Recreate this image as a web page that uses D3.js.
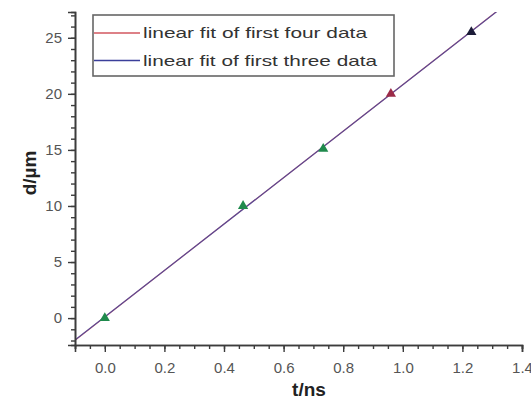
<!DOCTYPE html>
<html>
<head>
<meta charset="utf-8">
<script src="https://cdn.jsdelivr.net/npm/d3@7"></script>
<style>
  body { margin: 0; background: #fff; }
  svg { display: block; font-family: "Liberation Sans", Arial, sans-serif; }
</style>
</head>
<body>
<svg></svg>
<script>
var width = 531;
var height = 401;

// measured points (t in ns, d in um)
var times = [0, 0.464, 0.733, 0.96, 1.23];
var dists = [0, 10.0, 15.1, 20.0, 25.5];
var pointColors = ["#1f8a4c", "#1f8a4c", "#1f8a4c", "#9c2a48", "#1c1c38"];

var xTicks = [0, 0.2, 0.4, 0.6, 0.8, 1.0, 1.2, 1.4];
var yTicks = [0, 5, 10, 15, 20, 25];
var legendLabels = ["linear fit of first four data", "linear fit of first three data"];
var legendWidths = [224, 234];
var fitCounts = [4, 3];
var fitColors = ["#d2575f", "#3b3f9a"];

var margin = {left: 75, right: 9, top: 12, bottom: 56};

var x = d3.scaleLinear().domain([-0.1, 1.4]).range([margin.left, width - margin.right]);
var y = d3.scaleLinear().domain([-2.4, 27.3]).range([height - margin.bottom, margin.top]);

var svg = d3.select('svg')
    .attr('width', width)
    .attr('height', height);

svg.append('defs').append('clipPath')
    .attr('id', 'plot')
  .append('rect')
    .attr('x', x.range()[0])
    .attr('y', y.range()[1])
    .attr('width', x.range()[1] - x.range()[0])
    .attr('height', y.range()[0] - y.range()[1]);

//least squares fit over the first n points
function fit(n) {
  var ts = times.slice(0, n), ds = dists.slice(0, n);
  var mt = d3.mean(ts), md = d3.mean(ds);
  var sxy = d3.sum(ts, (t, i) => (t - mt) * (ds[i] - md));
  var sxx = d3.sum(ts, t => (t - mt) * (t - mt));
  var slope = sxy / sxx;
  return {slope: slope, intercept: md - slope * mt};
}

var line = d3.line().x(d => x(d[0])).y(d => y(d[1]));

fitCounts.forEach(function(n, i) {
  var f = fit(n);
  svg.append('path')
      .attr('clip-path', 'url(#plot)')
      .attr('d', line([-0.1, 1.5].map(t => [t, f.slope * t + f.intercept])))
      .attr('fill', 'none')
      .attr('stroke', fitColors[i])
      .attr('stroke-width', 1.2)
      .attr('opacity', i === 0 ? 0.9 : 0.8);
});

// axes
var xAxis = d3.axisBottom(x).tickValues(xTicks).tickFormat(d3.format('.1f')).tickSize(7).tickPadding(10);
var xMinor = d3.axisBottom(x).tickValues(d3.range(-0.1, 1.401, 0.05)).tickFormat('').tickSize(4);
var yAxis = d3.axisLeft(y).tickValues(yTicks).tickSize(7).tickPadding(6);
var yMinor = d3.axisLeft(y).tickValues(d3.range(-2, 28, 1)).tickFormat('').tickSize(4);

function styleAxis(g) {
  g.select('.domain').attr('stroke', '#3c3c3c').attr('stroke-width', 1.6);
  g.selectAll('.tick line').attr('stroke', '#3c3c3c').attr('stroke-width', 1.4);
  g.selectAll('.tick text').attr('fill', '#555').style('font-size', '15px');
}

svg.append('g').attr('transform', 'translate(0,' + y.range()[0] + ')').call(xMinor).call(styleAxis);
svg.append('g').attr('transform', 'translate(0,' + y.range()[0] + ')').call(xAxis).call(styleAxis);
svg.append('g').attr('transform', 'translate(' + x.range()[0] + ',0)').call(yMinor).call(styleAxis);
svg.append('g').attr('transform', 'translate(' + x.range()[0] + ',0)').call(yAxis).call(styleAxis);

// points
svg.selectAll('.pt')
    .data(times)
  .enter()
  .append('path')
    .classed('pt', true)
    .attr('transform', (t, i) => 'translate(' + x(t) + ',' + y(dists[i]) + ')')
    .attr('d', d3.symbol().type(d3.symbolTriangle).size(45))
    .attr('fill', (t, i) => pointColors[i]);

// axis titles
svg.append('text')
    .attr('x', 309)
    .attr('y', 396)
    .attr('text-anchor', 'middle')
    .style('font-size', '19px')
    .style('font-weight', 'bold')
    .attr('fill', '#222')
    .text('t/ns');

svg.append('text')
    .attr('transform', 'translate(36,173) rotate(-90)')
    .attr('text-anchor', 'middle')
    .style('font-size', '19px')
    .style('font-weight', 'bold')
    .attr('fill', '#222')
    .text('d/\u00b5m');

// legend
var legend = svg.append('g');
legend.append('rect')
    .attr('x', 93).attr('y', 15)
    .attr('width', 301).attr('height', 61)
    .attr('fill', '#fff')
    .attr('stroke', '#666')
    .attr('stroke-width', 1.6);

legendLabels.forEach(function(label, i) {
  var ly = 33 + i * 27.5;
  legend.append('line')
      .attr('x1', 94).attr('x2', 140)
      .attr('y1', ly).attr('y2', ly)
      .attr('stroke', fitColors[i])
      .attr('stroke-width', 1.3);
  legend.append('text')
      .attr('x', 143).attr('y', ly + 5)
      .attr('textLength', legendWidths[i])
      .attr('lengthAdjust', 'spacingAndGlyphs')
      .style('font-size', '15px')
      .attr('fill', '#333')
      .text(label);
});
</script>
</body>
</html>
